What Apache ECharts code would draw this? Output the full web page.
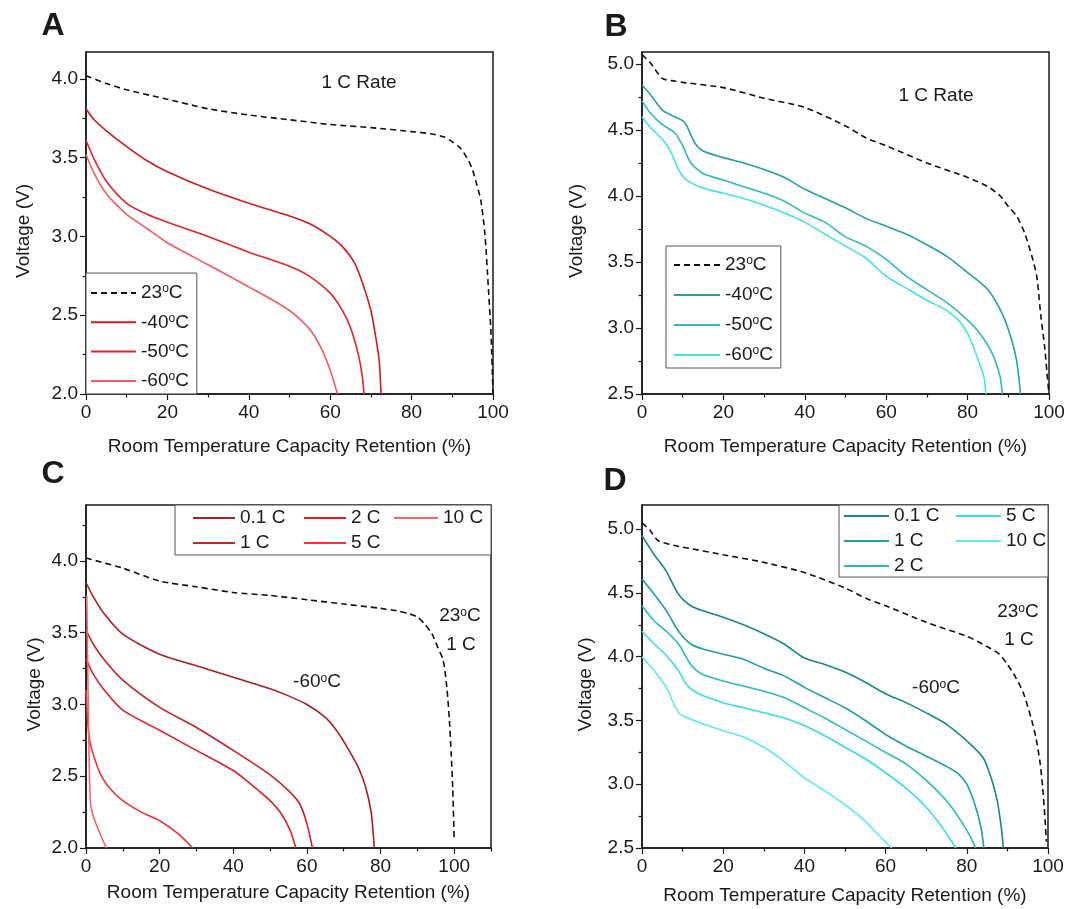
<!DOCTYPE html>
<html>
<head>
<meta charset="utf-8">
<script src="https://cdn.jsdelivr.net/npm/echarts@6/dist/echarts.min.js"></script>
<style>
html, body { margin: 0; background: #fff; }
#chart { width: 1086px; height: 909px; }
</style>
</head>
<body>
<div id="chart"></div>
<script>
// tick positions
var xMajor = [0, 20, 40, 60, 80, 100];
var xMinor = [10, 30, 50, 70, 90];
var xMinorC = [10, 30, 50, 70, 90, 110];
var yMajorLow = [2.0, 2.5, 3.0, 3.5, 4.0];
var yMinorA = [2.25, 2.75, 3.25, 3.75];
var yMinorC = [2.25, 2.75, 3.25, 3.75, 4.25];
var yMajorHigh = [2.5, 3.0, 3.5, 4.0, 4.5, 5.0];
var yMinorHigh = [2.75, 3.25, 3.75, 4.25, 4.75];

// panel A: 1 C rate, red
var a23 = [[0,4.02],[5,3.97],[10,3.93],[20,3.87],[30,3.81],[40,3.77],[50,3.74],[60,3.71],[70,3.69],[80,3.665],[85,3.65],[88,3.63],[90,3.60],[92,3.56],[94,3.48],[95,3.42],[96,3.33],[97,3.23],[98,3.02],[98.8,2.70],[99.5,2.39],[100,2.0]];
var a40 = [[0,3.81],[2,3.74],[5,3.67],[10,3.57],[15,3.48],[20,3.41],[30,3.30],[40,3.21],[50,3.13],[55,3.08],[60,3.00],[63,2.935],[66,2.83],[68,2.70],[70,2.53],[71,2.39],[72,2.22],[72.5,2.0]];
var a50 = [[0,3.61],[2,3.49],[5,3.35],[10,3.21],[15,3.14],[20,3.09],[30,3.00],[40,2.90],[50,2.81],[55,2.745],[60,2.64],[63,2.53],[65,2.42],[67,2.24],[68,2.09],[68.3,2.0]];
var a60 = [[0,3.52],[2,3.40],[5,3.27],[10,3.14],[15,3.05],[20,2.96],[30,2.82],[40,2.68],[50,2.53],[55,2.41],[58,2.28],[60,2.15],[61.8,2.0]];

// panel B: 1 C rate, teal
var b23 = [[0,5.07],[2,5.01],[5,4.89],[8,4.87],[10,4.86],[20,4.82],[30,4.74],[40,4.67],[50,4.53],[55,4.44],[60,4.38],[70,4.25],[80,4.14],[85,4.07],[88,4.00],[90,3.92],[92,3.85],[94,3.72],[96,3.52],[97,3.39],[98,3.09],[99,2.84],[99.5,2.66],[100,2.5]];
var b40 = [[0,4.84],[2,4.77],[5,4.65],[8,4.60],[10,4.57],[11,4.53],[13,4.40],[15,4.34],[20,4.29],[25,4.25],[30,4.20],[35,4.14],[40,4.05],[45,3.98],[50,3.91],[55,3.83],[60,3.77],[65,3.71],[70,3.63],[75,3.54],[80,3.42],[85,3.29],[88,3.14],[90,2.99],[92,2.76],[93,2.5]];
var b50 = [[0,4.72],[2,4.63],[5,4.54],[8,4.48],[10,4.38],[12,4.25],[15,4.17],[20,4.12],[25,4.07],[30,4.02],[35,3.96],[40,3.87],[45,3.80],[50,3.69],[55,3.62],[60,3.52],[65,3.39],[70,3.29],[75,3.19],[80,3.06],[83,2.96],[86,2.81],[88,2.63],[88.5,2.5]];
var b60 = [[0,4.60],[2,4.52],[5,4.43],[7,4.34],[9,4.20],[11,4.12],[15,4.06],[20,4.02],[25,3.98],[30,3.93],[35,3.87],[40,3.80],[45,3.71],[50,3.62],[55,3.53],[60,3.39],[65,3.30],[70,3.21],[75,3.13],[78,3.05],[80,2.96],[82,2.81],[84,2.63],[84.5,2.5]];

// panel C: -60 C, red, several rates
var c23 = [[0,4.02],[10,3.95],[20,3.86],[30,3.82],[40,3.78],[50,3.76],[60,3.73],[70,3.70],[80,3.67],[85,3.65],[88,3.63],[90,3.61],[92,3.56],[94,3.49],[95.5,3.40],[97,3.31],[98,3.12],[98.7,2.89],[99.2,2.65],[99.6,2.42],[100,2.05]];
var c01 = [[0,3.85],[2,3.75],[5,3.63],[10,3.49],[20,3.35],[30,3.27],[40,3.19],[50,3.11],[55,3.06],[60,3.00],[65,2.91],[68,2.82],[71,2.70],[74,2.56],[76,2.42],[77.5,2.24],[78.3,2.0]];
var c1 = [[0,3.52],[2,3.42],[5,3.31],[10,3.17],[20,2.98],[30,2.84],[40,2.68],[50,2.51],[55,2.40],[58,2.31],[60,2.17],[61.5,2.0]];
var c2 = [[0,3.32],[2,3.21],[5,3.10],[10,2.96],[20,2.82],[30,2.68],[40,2.54],[45,2.44],[50,2.33],[53,2.24],[55.5,2.12],[57,2.0]];
var c5 = [[0,3.1],[0.5,2.87],[1,2.75],[2,2.65],[4,2.51],[7,2.40],[10,2.33],[15,2.25],[20,2.19],[25,2.10],[29,2.0]];
var c10 = [[0.2,3.76],[0.5,3.2],[0.8,2.7],[1.2,2.32],[2,2.22],[3.5,2.12],[5.5,2.0]];

// panel D: -60 C, teal, several rates
var d23 = [[0,5.05],[2,4.99],[4,4.91],[7,4.88],[10,4.86],[20,4.80],[30,4.74],[40,4.66],[50,4.54],[55,4.46],[60,4.40],[70,4.27],[80,4.16],[85,4.08],[88,4.02],[90,3.94],[92,3.84],[94,3.71],[96,3.50],[97,3.37],[98,3.18],[98.7,2.97],[99.3,2.71],[99.6,2.55]];
var d01 = [[0,4.95],[3,4.80],[6,4.67],[9,4.49],[12,4.40],[15,4.36],[20,4.31],[25,4.25],[30,4.18],[35,4.10],[40,3.99],[45,3.94],[50,3.88],[55,3.80],[60,3.71],[65,3.64],[70,3.56],[75,3.47],[80,3.34],[84,3.21],[86,3.05],[87.5,2.87],[88.5,2.66],[89,2.5]];
var d1 = [[0,4.61],[3,4.49],[6,4.36],[9,4.20],[12,4.10],[15,4.06],[20,4.02],[25,3.98],[30,3.91],[35,3.85],[40,3.76],[45,3.68],[50,3.60],[55,3.50],[60,3.39],[65,3.30],[70,3.22],[75,3.14],[78,3.08],[80,3.00],[82,2.84],[83.5,2.66],[84.2,2.5]];
var d2 = [[0,4.40],[3,4.28],[6,4.20],[9,4.10],[12,3.94],[15,3.86],[20,3.81],[25,3.77],[30,3.73],[35,3.68],[40,3.60],[45,3.52],[50,3.43],[55,3.34],[60,3.25],[65,3.16],[70,3.03],[75,2.87],[78,2.74],[80.5,2.61],[82.2,2.5]];
var d5 = [[0,4.20],[3,4.10],[6,4.01],[9,3.89],[11,3.78],[14,3.71],[20,3.64],[25,3.60],[30,3.56],[35,3.52],[40,3.46],[45,3.38],[50,3.29],[55,3.20],[60,3.09],[65,2.97],[70,2.82],[74,2.66],[77.3,2.5]];
var d10 = [[0,4.00],[3,3.89],[6,3.76],[9,3.56],[12,3.51],[20,3.42],[25,3.37],[30,3.29],[35,3.18],[40,3.05],[45,2.95],[50,2.84],[55,2.71],[58,2.61],[61.5,2.5]];

var FONT = '"Liberation Sans", Arial, sans-serif';
var INK = '#1a1a1a';
var xTitle = 'Room Temperature Capacity Retention (%)';

var grids = [
    {left: 86, top: 52, width: 407, height: 342},
    {left: 642, top: 52, width: 407, height: 342},
    {left: 86, top: 505, width: 405, height: 343},
    {left: 642, top: 505, width: 406, height: 343}
];
var panels = [
    {xMax: 100, yMin: 2.0, yMax: 4.17, xMinor: xMinor, yMajor: yMajorLow, yMinor: yMinorA, xGap: 43, yGap: 53},
    {xMax: 100, yMin: 2.5, yMax: 5.09, xMinor: xMinor, yMajor: yMajorHigh, yMinor: yMinorHigh, xGap: 43, yGap: 56},
    {xMax: 110, yMin: 2.0, yMax: 4.39, xMinor: xMinorC, yMajor: yMajorLow, yMinor: yMinorC, xGap: 35, yGap: 42},
    {xMax: 100, yMin: 2.5, yMax: 5.19, xMinor: xMinor, yMajor: yMajorHigh, yMinor: yMinorHigh, xGap: 38, yGap: 47}
];

var rich = {
    s: {fontSize: 12, fontFamily: FONT, color: INK, verticalAlign: 'top', lineHeight: 12, padding: [0, 0, 8, 0]}
};

function deg(name) {
    return name.replace('°', '{s|o}');
}

var xAxes = [], yAxes = [];
panels.forEach(function(p, i) {
    var tickStyle = {color: INK, width: 1.2};
    xAxes.push({
        gridIndex: i, type: 'value', position: 'bottom', min: 0, max: p.xMax,
        axisLine: {show: true, onZero: false, lineStyle: {color: INK, width: 1.5}},
        axisTick: {show: true, inside: false, length: 6, customValues: xMajor, lineStyle: tickStyle},
        axisLabel: {customValues: xMajor, margin: 9, fontSize: 19, fontFamily: FONT, color: INK},
        splitLine: {show: false},
        name: xTitle, nameLocation: 'middle', nameGap: p.xGap,
        nameTextStyle: {fontSize: 19, fontFamily: FONT, color: INK}
    });
    xAxes.push({
        gridIndex: i, type: 'value', position: 'bottom', min: 0, max: p.xMax,
        axisLine: {show: false},
        axisTick: {show: true, inside: false, length: 3.5, customValues: p.xMinor, lineStyle: tickStyle},
        axisLabel: {show: false},
        splitLine: {show: false}
    });
    yAxes.push({
        gridIndex: i, type: 'value', position: 'left', min: p.yMin, max: p.yMax,
        axisLine: {show: true, onZero: false, lineStyle: {color: INK, width: 1.5}},
        axisTick: {show: true, inside: false, length: 6, customValues: p.yMajor, lineStyle: tickStyle},
        axisLabel: {customValues: p.yMajor, margin: 8, fontSize: 19, fontFamily: FONT, color: INK,
            formatter: function(v) { return v.toFixed(1); }},
        splitLine: {show: false},
        name: 'Voltage (V)', nameLocation: 'middle', nameGap: p.yGap,
        nameTextStyle: {fontSize: 19, fontFamily: FONT, color: INK, padding: [0, 16, 0, 0]}
    });
    yAxes.push({
        gridIndex: i, type: 'value', position: 'left', min: p.yMin, max: p.yMax,
        axisLine: {show: false},
        axisTick: {show: true, inside: false, length: 3.5, customValues: p.yMinor, lineStyle: tickStyle},
        axisLabel: {show: false},
        splitLine: {show: false}
    });
});

function line(panel, name, data, color, dashed) {
    return {
        type: 'line', name: name, data: data,
        xAxisIndex: panel * 2, yAxisIndex: panel * 2,
        symbol: 'none', smooth: 0.25,
        lineStyle: {color: color, width: dashed ? 1.6 : 1.6, type: dashed ? [6, 4] : 'solid'},
        itemStyle: {color: color},
        emphasis: {disabled: true},
        z: dashed ? 3 : 2
    };
}

var series = [
    line(0, 'A:23°C', a23, '#111', true),
    line(0, 'A:-40°C', a40, '#d41a20', false),
    line(0, 'A:-50°C', a50, '#e8202a', false),
    line(0, 'A:-60°C', a60, '#f25a60', false),
    line(1, 'B:23°C', b23, '#111', true),
    line(1, 'B:-40°C', b40, '#1fa3a1', false),
    line(1, 'B:-50°C', b50, '#2cbcbc', false),
    line(1, 'B:-60°C', b60, '#3fe3e8', false),
    line(2, 'C:23°C', c23, '#111', true),
    line(2, 'C:0.1 C', c01, '#b01c22', false),
    line(2, 'C:1 C', c1, '#cc2028', false),
    line(2, 'C:2 C', c2, '#e41c26', false),
    line(2, 'C:5 C', c5, '#f23038', false),
    line(2, 'C:10 C', c10, '#f5646a', false),
    line(3, 'D:23°C', d23, '#111', true),
    line(3, 'D:0.1 C', d01, '#138a86', false),
    line(3, 'D:1 C', d1, '#1ba19f', false),
    line(3, 'D:2 C', d2, '#25bdbd', false),
    line(3, 'D:5 C', d5, '#34dfe0', false),
    line(3, 'D:10 C', d10, '#58ecf0', false)
];

function legend(names, pos, extra) {
    var l = {
        data: names, orient: 'vertical', left: pos[0], top: pos[1],
        itemWidth: pos[2], itemHeight: 14, itemGap: pos[3],
        selectedMode: false,
        itemStyle: {opacity: 0},
        formatter: function(n) { return deg(n.split(':')[1]); },
        textStyle: {fontSize: 19, fontFamily: FONT, color: INK, lineHeight: 20, rich: rich},
        padding: 0, z: 6
    };
    for (var k in extra) l[k] = extra[k];
    return l;
}

var legends = [
    legend(['A:23°C', 'A:-40°C', 'A:-50°C', 'A:-60°C'], [86, 273, 45, 9.3],
        {padding: [10, 8, 3, 4], borderColor: '#555', borderWidth: 1, backgroundColor: '#fff'}),
    legend(['B:23°C', 'B:-40°C', 'B:-50°C', 'B:-60°C'], [666, 246, 46, 10],
        {padding: [9, 8, 3, 7], borderColor: '#555', borderWidth: 1, backgroundColor: '#fff'}),
    legend(['C:0.1 C', 'C:1 C'], [192, 508, 42, 5]),
    legend(['C:2 C', 'C:5 C'], [303, 508, 42, 5]),
    legend(['C:10 C'], [393, 508, 44, 5]),
    legend(['D:0.1 C', 'D:1 C', 'D:2 C'], [843, 506, 45, 5]),
    legend(['D:5 C', 'D:10 C'], [955, 506, 45, 5])
];

function label(text, x, y, size, bold) {
    return {
        type: 'text', x: x, y: y, z: 7,
        style: {text: text, fontSize: size, fontFamily: FONT, fontWeight: bold ? 'bold' : 'normal',
            fill: INK, align: 'center', verticalAlign: 'middle', rich: rich}
    };
}

var graphics = [
    label('A', 53, 26, 32, true),
    label('B', 616, 27, 32, true),
    label('C', 53, 474, 32, true),
    label('D', 615, 481, 32, true),
    label('1 C Rate', 359, 83, 19),
    label('1 C Rate', 936, 96, 19),
    label(deg('23°C'), 460, 616, 19),
    label('1 C', 461, 645, 19),
    label(deg('-60°C'), 317, 682, 19),
    label(deg('23°C'), 1018, 612, 19),
    label('1 C', 1019, 640, 19),
    label(deg('-60°C'), 936, 688, 19),
    {type: 'rect', z: 5, shape: {x: 175, y: 505, width: 316, height: 50},
        style: {fill: '#fff', stroke: '#555', lineWidth: 1}},
    {type: 'rect', z: 5, shape: {x: 839, y: 505, width: 209, height: 72},
        style: {fill: '#fff', stroke: '#555', lineWidth: 1}}
];

var chart = echarts.init(document.getElementById('chart'), null, {renderer: 'canvas'});
chart.setOption({
    backgroundColor: '#fff',
    animation: false,
    grid: grids.map(function(g) {
        return {left: g.left, top: g.top, width: g.width, height: g.height,
            show: true, borderColor: INK, borderWidth: 1.5, backgroundColor: 'transparent', containLabel: false};
    }),
    xAxis: xAxes,
    yAxis: yAxes,
    legend: legends,
    graphic: graphics,
    series: series
});
</script>
</body>
</html>
